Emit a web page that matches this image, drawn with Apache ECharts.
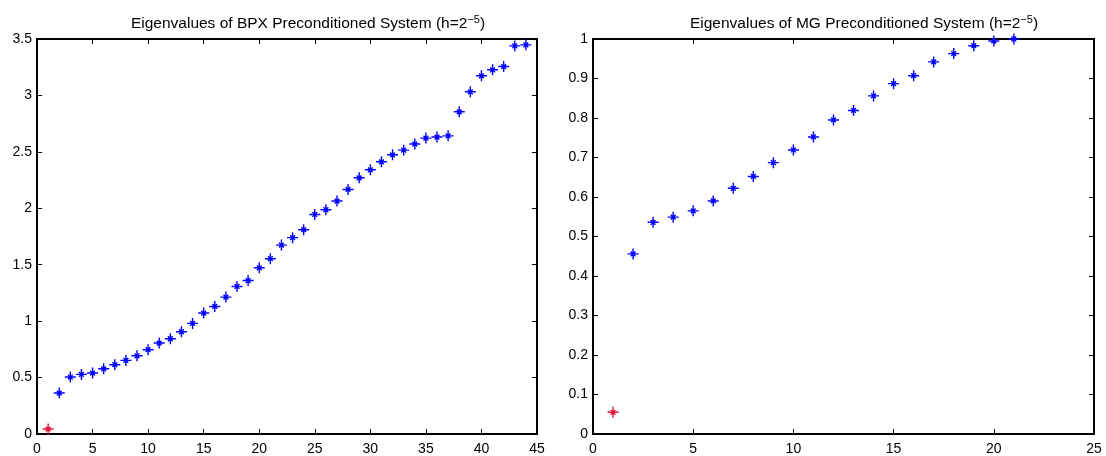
<!DOCTYPE html>
<html>
<head>
<meta charset="utf-8">
<script src="https://cdn.jsdelivr.net/npm/echarts@6/dist/echarts.min.js"></script>
<style>
html,body{margin:0;padding:0;background:#fff;}
#chart{width:1106px;height:456px;}
</style>
</head>
<body>
<div id="chart"></div>
<script>
// Data
const bpxValues = [0.044, 0.363, 0.505, 0.528, 0.540, 0.578, 0.614, 0.652, 0.693, 0.747,
  0.806, 0.844, 0.906, 0.980, 1.072, 1.130, 1.213, 1.307, 1.360, 1.473,
  1.553, 1.674, 1.740, 1.810, 1.945, 1.987, 2.064, 2.167, 2.270, 2.341,
  2.412, 2.474, 2.515, 2.569, 2.622, 2.631, 2.642, 2.855, 3.032, 3.174,
  3.227, 3.256, 3.439, 3.448];
const mgValues = [0.055, 0.456, 0.536, 0.549, 0.565, 0.590, 0.622, 0.652, 0.687, 0.719,
  0.752, 0.795, 0.819, 0.856, 0.887, 0.907, 0.942, 0.963, 0.983, 0.995, 1.000];
const bpxTitle = 'Eigenvalues of BPX Preconditioned System (h=2';
const mgTitle = 'Eigenvalues of MG Preconditioned System (h=2';
const titleExp = '\u22125';
const bpxYTicks = {min: 0, max: 3.5, interval: 0.5};
const bpxXTicks = {min: 0, max: 45, interval: 5};
const mgYTicks = {min: 0, max: 1, interval: 0.1};
const mgXTicks = {min: 0, max: 25, interval: 5};

const BLUE = '#0000ff';
const RED = '#e0143c';
const STAR = 'path://M0,6L12,6M6,0L6,12M3.4,3.4L8.6,8.6M8.6,3.4L3.4,8.6';

function toPoints(vals) {
  return vals.map((v, i) => ({
    value: [i + 1, v],
    itemStyle: i === 0 ? {color: RED, borderColor: RED} : {color: BLUE, borderColor: BLUE}
  }));
}

const font = 'Liberation Sans, Arial, Helvetica, sans-serif';
const lineStyle = {color: '#000', width: 2};

function axisPair(type, gridIndex, t, pos, labels) {
  const isY = type === 'y';
  return {
    type: 'value', gridIndex: gridIndex, position: pos,
    min: t.min, max: t.max, interval: t.interval,
    axisLine: {show: true, onZero: false, lineStyle: lineStyle},
    axisTick: {show: true, inside: true, length: 5, lineStyle: {color: '#000', width: 1}},
    axisLabel: {show: labels, color: '#000', fontSize: 14, fontFamily: font,
      margin: isY ? 5 : 8, padding: isY ? [6, 0, 0, 0] : 0,
      formatter: v => String(+v.toFixed(2))},
    splitLine: {show: false}
  };
}

const grids = [
  {left: 37, top: 39, width: 500, height: 395},
  {left: 593, top: 39, width: 501, height: 395}
];

function titleRich() {
  return {
    t: {fontSize: 15.5, fontFamily: font, color: '#000', fontWeight: 'normal'},
    s: {fontSize: 11, fontFamily: font, color: '#000', fontWeight: 'normal', verticalAlign: 'top', padding: [0, 0, 9, 0]}
  };
}

const option = {
  animation: false,
  backgroundColor: '#fff',
  title: [
    {text: '{t|' + bpxTitle + '}{s|' + titleExp + '}{t|)}', left: 303, top: 9, textAlign: 'center',
      textStyle: {fontWeight: 'normal', rich: titleRich()}},
    {text: '{t|' + mgTitle + '}{s|' + titleExp + '}{t|)}', left: 859, top: 9, textAlign: 'center',
      textStyle: {fontWeight: 'normal', rich: titleRich()}}
  ],
  grid: grids,
  xAxis: [
    axisPair('x', 0, bpxXTicks, 'bottom', true),
    axisPair('x', 0, bpxXTicks, 'top', false),
    axisPair('x', 1, mgXTicks, 'bottom', true),
    axisPair('x', 1, mgXTicks, 'top', false)
  ],
  yAxis: [
    axisPair('y', 0, bpxYTicks, 'left', true),
    axisPair('y', 0, bpxYTicks, 'right', false),
    axisPair('y', 1, mgYTicks, 'left', true),
    axisPair('y', 1, mgYTicks, 'right', false)
  ],
  series: [
    {type: 'scatter', xAxisIndex: 0, yAxisIndex: 0, data: toPoints(bpxValues),
      symbol: STAR, symbolSize: 11, clip: false,
      itemStyle: {borderWidth: 1.4, opacity: 1}},
    {type: 'scatter', xAxisIndex: 2, yAxisIndex: 2, data: toPoints(mgValues),
      symbol: STAR, symbolSize: 11, clip: false,
      itemStyle: {borderWidth: 1.4, opacity: 1}}
  ]
};

const chart = echarts.init(document.getElementById('chart'), null, {renderer: 'canvas'});
chart.setOption(option);
</script>
</body>
</html>
